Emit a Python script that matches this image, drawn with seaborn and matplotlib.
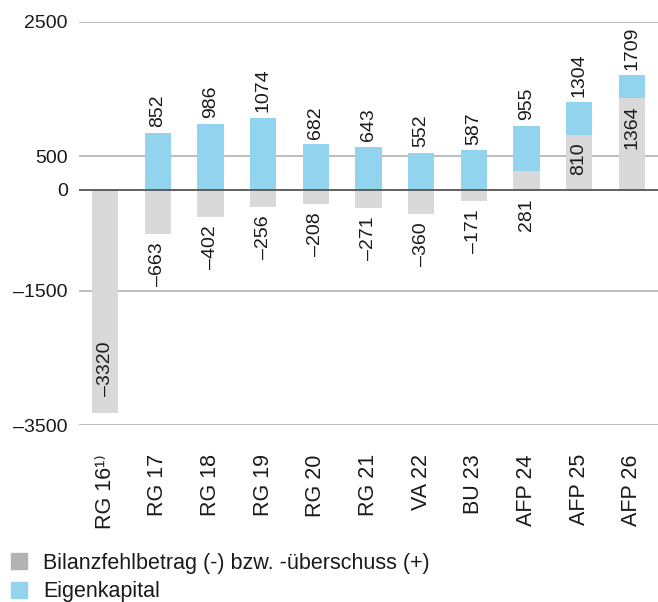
import numpy as np
import pandas as pd
import matplotlib
matplotlib.use("Agg")
import matplotlib.pyplot as plt
from matplotlib.patches import Patch
import seaborn as sns

categories = ["RG 16\u00b9\u207e", "RG 17", "RG 18", "RG 19", "RG 20", "RG 21",
              "VA 22", "BU 23", "AFP 24", "AFP 25", "AFP 26"]
bilanz = [-3320, -663, -402, -256, -208, -271, -360, -171, 281, 810, 1364]
eigenkapital = [np.nan, 852, 986, 1074, 682, 643, 552, 587, 955, 1304, 1709]
yticks = [2500, 500, 0, -1500, -3500]

GRAY = "#d9d9d9"
GRAY_LEGEND = "#b3b3b3"
BLUE = "#92d3ee"
TXT = "#1a1a1a"

sns.set_style("white")
plt.rcParams["font.family"] = ["Liberation Sans", "DejaVu Sans"]
plt.rcParams["font.size"] = 14

df = pd.DataFrame({"cat": categories, "bilanz": bilanz, "ek": eigenkapital})

fig = plt.figure(figsize=(6.58, 6.02), dpi=100)
ax = fig.add_axes([0.12, 0.294, 0.88, 0.6695])

for y in yticks:
    ax.axhline(y, color="#555555" if y == 0 else "#b8b8b8", lw=1.3, zorder=3 if y == 0 else 0.5)

sns.barplot(data=df, x="cat", y="ek", order=categories, color=BLUE,
            width=0.5, saturation=1, linewidth=0, ax=ax, zorder=2)
sns.barplot(data=df, x="cat", y="bilanz", order=categories, color=GRAY,
            width=0.5, saturation=1, linewidth=0, ax=ax, zorder=2)

fmt = lambda v: f"{v:d}".replace("-", "\u2013")

for i, (b, e) in enumerate(zip(bilanz, eigenkapital)):
    if not np.isnan(e):
        ax.annotate(fmt(int(e)), (i, e), xytext=(0, 4), textcoords="offset points",
                    rotation=90, ha="center", va="bottom", color=TXT)
    if b < -1000:
        # long bar: label sits inside, near the bottom
        ax.annotate(fmt(b), (i, b), xytext=(0, 12), textcoords="offset points",
                    rotation=90, ha="center", va="bottom", color=TXT, zorder=4)
    elif b < 500:
        ax.annotate(fmt(b), (i, min(b, 0)), xytext=(0, -6), textcoords="offset points",
                    rotation=90, ha="center", va="top", color=TXT)
    else:
        ax.annotate(fmt(b), (i, b), xytext=(0, -5), textcoords="offset points",
                    rotation=90, ha="center", va="top", color=TXT, zorder=4)

ax.set_xlim(-0.5, len(categories) - 0.5)
ax.set_ylim(-3500, 2500)
ax.set_yticks(yticks)
ax.set_yticklabels([fmt(v) for v in yticks], color=TXT)
ax.set_xticks(range(len(categories)))
ax.set_xticklabels(categories, rotation=90, color=TXT, fontsize=15.5)
ax.tick_params(axis="y", length=0, pad=8)
ax.tick_params(axis="x", length=0, pad=21)
ax.set_xlabel("")
ax.set_ylabel("")
sns.despine(ax=ax, left=True, bottom=True)

handles = [Patch(color=GRAY_LEGEND), Patch(color=BLUE)]
labels = ["Bilanzfehlbetrag (-) bzw. -überschuss (+)", "Eigenkapital"]
fig.legend(handles, labels, loc="upper left", bbox_to_anchor=(0.0, 1 - 542 / 602),
           frameon=False, handlelength=0.75, handleheight=0.75, handletextpad=0.75,
           labelspacing=0.35, borderaxespad=0.0, borderpad=0.5, fontsize=15.5,
           labelcolor=TXT)

fig.savefig("out.png", dpi=100)
